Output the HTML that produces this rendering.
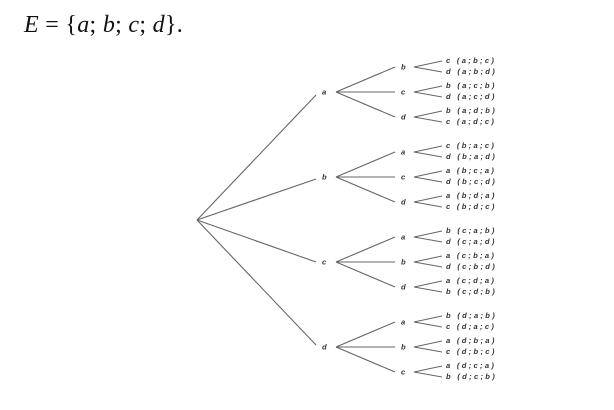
<!DOCTYPE html>
<html><head><meta charset="utf-8"><style>
body{margin:0;background:#fff;width:614px;height:410px;overflow:hidden}
svg{position:absolute;left:0;top:0}
.t{font-family:"Liberation Sans",sans-serif;font-style:italic;font-weight:bold;font-size:7.6px;fill:#333;letter-spacing:2.3px}
.n{font-family:"Liberation Sans",sans-serif;font-style:italic;font-weight:bold;font-size:7.6px;fill:#333}
line{stroke:#666;stroke-width:1.1}
</style></head><body>
<svg width="614" height="410" viewBox="0 0 614 410">
<text x="24" y="32" style="font-family:'Liberation Serif',serif;font-style:italic;font-size:24px;fill:#111;letter-spacing:0.3px">E <tspan font-style="normal">= {</tspan>a<tspan font-style="normal">;</tspan> b<tspan font-style="normal">;</tspan> c<tspan font-style="normal">;</tspan> d<tspan font-style="normal">}.</tspan></text>
<line x1="197" y1="220" x2="316" y2="95"/>
<line x1="197" y1="220" x2="316" y2="179"/>
<line x1="197" y1="220" x2="316" y2="262"/>
<line x1="197" y1="220" x2="316" y2="345"/>
<defs>
<g id="blk">
<line x1="336" y1="0" x2="395" y2="-25"/>
<line x1="336" y1="0" x2="395" y2="0"/>
<line x1="336" y1="0" x2="395" y2="25"/>
<line x1="414" y1="-25" x2="442" y2="-31"/><line x1="414" y1="-25" x2="442" y2="-20"/>
<line x1="414" y1="0" x2="442" y2="-6"/><line x1="414" y1="0" x2="442" y2="5"/>
<line x1="414" y1="25" x2="442" y2="19"/><line x1="414" y1="25" x2="442" y2="30"/>
</g>
</defs>
<use href="#blk" transform="translate(0,92)"/>
<use href="#blk" transform="translate(0,177)"/>
<use href="#blk" transform="translate(0,262)"/>
<use href="#blk" transform="translate(0,347)"/>

<g transform="translate(0,92)">
<text class="n" x="322" y="2.5">a</text>
<text class="n" x="401" y="-22.5">b</text><text class="n" x="401" y="2.5">c</text><text class="n" x="401" y="27.5">d</text>
<text class="t" x="446" y="-29">c (a;b;c)</text><text class="t" x="446" y="-18">d (a;b;d)</text>
<text class="t" x="446" y="-4">b (a;c;b)</text><text class="t" x="446" y="7">d (a;c;d)</text>
<text class="t" x="446" y="21">b (a;d;b)</text><text class="t" x="446" y="32">c (a;d;c)</text>
</g>
<g transform="translate(0,177)">
<text class="n" x="322" y="2.5">b</text>
<text class="n" x="401" y="-22.5">a</text><text class="n" x="401" y="2.5">c</text><text class="n" x="401" y="27.5">d</text>
<text class="t" x="446" y="-29">c (b;a;c)</text><text class="t" x="446" y="-18">d (b;a;d)</text>
<text class="t" x="446" y="-4">a (b;c;a)</text><text class="t" x="446" y="7">d (b;c;d)</text>
<text class="t" x="446" y="21">a (b;d;a)</text><text class="t" x="446" y="32">c (b;d;c)</text>
</g>
<g transform="translate(0,262)">
<text class="n" x="322" y="2.5">c</text>
<text class="n" x="401" y="-22.5">a</text><text class="n" x="401" y="2.5">b</text><text class="n" x="401" y="27.5">d</text>
<text class="t" x="446" y="-29">b (c;a;b)</text><text class="t" x="446" y="-18">d (c;a;d)</text>
<text class="t" x="446" y="-4">a (c;b;a)</text><text class="t" x="446" y="7">d (c;b;d)</text>
<text class="t" x="446" y="21">a (c;d;a)</text><text class="t" x="446" y="32">b (c;d;b)</text>
</g>
<g transform="translate(0,347)">
<text class="n" x="322" y="2.5">d</text>
<text class="n" x="401" y="-22.5">a</text><text class="n" x="401" y="2.5">b</text><text class="n" x="401" y="27.5">c</text>
<text class="t" x="446" y="-29">b (d;a;b)</text><text class="t" x="446" y="-18">c (d;a;c)</text>
<text class="t" x="446" y="-4">a (d;b;a)</text><text class="t" x="446" y="7">c (d;b;c)</text>
<text class="t" x="446" y="21">a (d;c;a)</text><text class="t" x="446" y="32">b (d;c;b)</text>
</g>
</svg>
</body></html>
